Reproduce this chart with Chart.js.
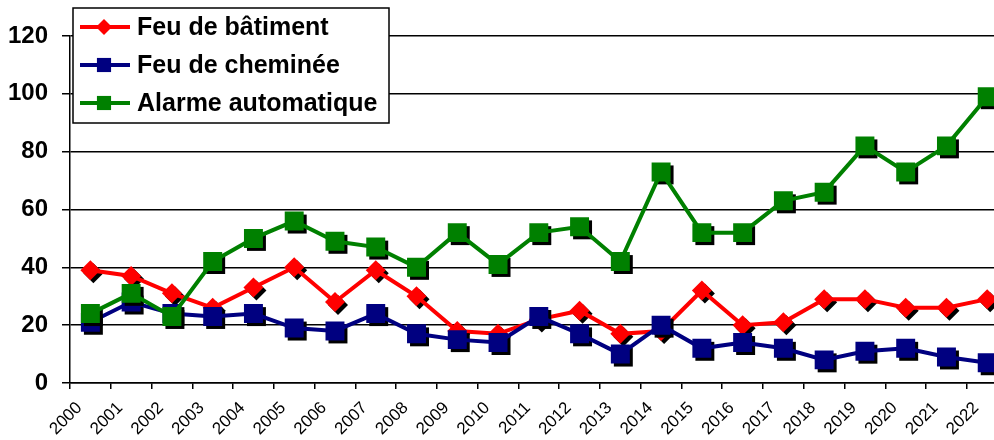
<!DOCTYPE html>
<html>
<head>
<meta charset="utf-8">
<script src="https://cdn.jsdelivr.net/npm/chart.js@4.4.1/dist/chart.umd.min.js"></script>
<style>
  html, body { margin: 0; padding: 0; background: #fff; }
  #wrap { width: 994px; height: 440px; overflow: hidden; }
  #box { width: 1021px; height: 440px; position: relative; }
</style>
</head>
<body>
<div id="wrap"><div id="box"><canvas id="chart"></canvas></div></div>
<script>
var years = ["2000","2001","2002","2003","2004","2005","2006","2007","2008","2009","2010","2011",
             "2012","2013","2014","2015","2016","2017","2018","2019","2020","2021","2022"];
var feuBatiment = [39,37,31,26,33,40,28,39,30,18,17,22,25,17,18,32,20,21,29,29,26,26,29];
var feuCheminee = [21,28,24,23,24,19,18,24,17,15,14,23,17,10,20,12,14,12,8,11,12,9,7];
var alarmeAuto  = [24,31,23,42,50,56,49,47,40,52,41,52,54,42,73,52,52,63,66,82,73,82,99];
var yTicks = [0,20,40,60,80,100,120];

var FONT = "'Liberation Sans', Arial, sans-serif";

// black drop shadow under the markers, drawn before each series
var markerShadow = {
    id: 'markerShadow',
    beforeDatasetDraw: function(chart, args) {
        var ctx = chart.ctx;
        var ds = chart.data.datasets[args.index];
        ctx.save();
        ctx.fillStyle = '#000';
        args.meta.data.forEach(function(pt) {
            ctx.beginPath();
            Chart.helpers.drawPoint(ctx, {pointStyle: ds.pointStyle, radius: ds.pointRadius, rotation: 0, borderWidth: 0}, pt.x + 3, pt.y + 3);
        });
        ctx.restore();
    }
};

// legend box inside the plot, top left
var boxLegend = {
    id: 'boxLegend',
    afterDraw: function(chart) {
        var ctx = chart.ctx;
        ctx.save();
        ctx.fillStyle = '#fff';
        ctx.fillRect(73, 8, 316, 115);
        ctx.strokeStyle = '#000';
        ctx.lineWidth = 1.5;
        ctx.strokeRect(73, 8, 316, 115);
        var rows = [27, 65, 103];
        chart.data.datasets.forEach(function(ds, i) {
            var y = rows[i];
            ctx.strokeStyle = ds.borderColor;
            ctx.lineWidth = 4;
            ctx.beginPath();
            ctx.moveTo(80, y);
            ctx.lineTo(130, y);
            ctx.stroke();
            ctx.fillStyle = ds.borderColor;
            ctx.beginPath();
            Chart.helpers.drawPoint(ctx, {pointStyle: ds.pointStyle, radius: ds.pointStyle === 'rectRot' ? 8 : 10, rotation: 0, borderWidth: 0}, 104, y);
            ctx.fillStyle = '#000';
            ctx.font = 'bold 25px ' + FONT;
            ctx.textBaseline = 'middle';
            ctx.textAlign = 'left';
            ctx.fillText(ds.label, 137, y + 1);
        });
        ctx.restore();
    }
};

new Chart(document.getElementById('chart'), {
    type: 'line',
    data: {
        labels: years,
        datasets: [{
            label: 'Feu de bâtiment',
            data: feuBatiment,
            borderColor: '#ff0000',
            backgroundColor: '#ff0000',
            borderWidth: 4,
            pointStyle: 'rectRot',
            pointRadius: 10,
            pointBorderWidth: 0,
            order: 3
        }, {
            label: 'Feu de cheminée',
            data: feuCheminee,
            borderColor: '#000080',
            backgroundColor: '#000080',
            borderWidth: 4,
            pointStyle: 'rect',
            pointRadius: 13.4,
            pointBorderWidth: 0,
            order: 2
        }, {
            label: 'Alarme automatique',
            data: alarmeAuto,
            borderColor: '#008000',
            backgroundColor: '#008000',
            borderWidth: 4,
            pointStyle: 'rect',
            pointRadius: 13.4,
            pointBorderWidth: 0,
            order: 1
        }]
    },
    options: {
        responsive: true,
        maintainAspectRatio: false,
        animation: false,
        layout: { padding: { top: 36, left: 0, right: 0, bottom: 0 } },
        plugins: {
            legend: { display: false },
            tooltip: { enabled: false }
        },
        scales: {
            x: {
                type: 'category',
                offset: true,
                grid: { offset: true, drawOnChartArea: false, drawTicks: true, tickLength: 6, color: '#000', lineWidth: 1.5 },
                border: { color: '#000', width: 1.5 },
                ticks: {
                    color: '#000',
                    font: { family: FONT, size: 17 },
                    minRotation: 45,
                    maxRotation: 45,
                    autoSkip: false,
                    labelOffset: -11,
                    padding: 9
                },
                afterFit: function(s) { s.height = 57; }
            },
            y: {
                min: 0,
                max: 120,
                afterBuildTicks: function(s) { s.ticks = yTicks.map(function(v) { return {value: v}; }); },
                grid: { color: '#000', lineWidth: 1.5, tickLength: 8 },
                border: { color: '#000', width: 1.5 },
                ticks: {
                    color: '#000',
                    font: { family: FONT, size: 24, weight: 'bold' },
                    padding: 14
                },
                afterFit: function(s) { s.width = 70; }
            }
        }
    },
    plugins: [markerShadow, boxLegend]
});
</script>
</body>
</html>
